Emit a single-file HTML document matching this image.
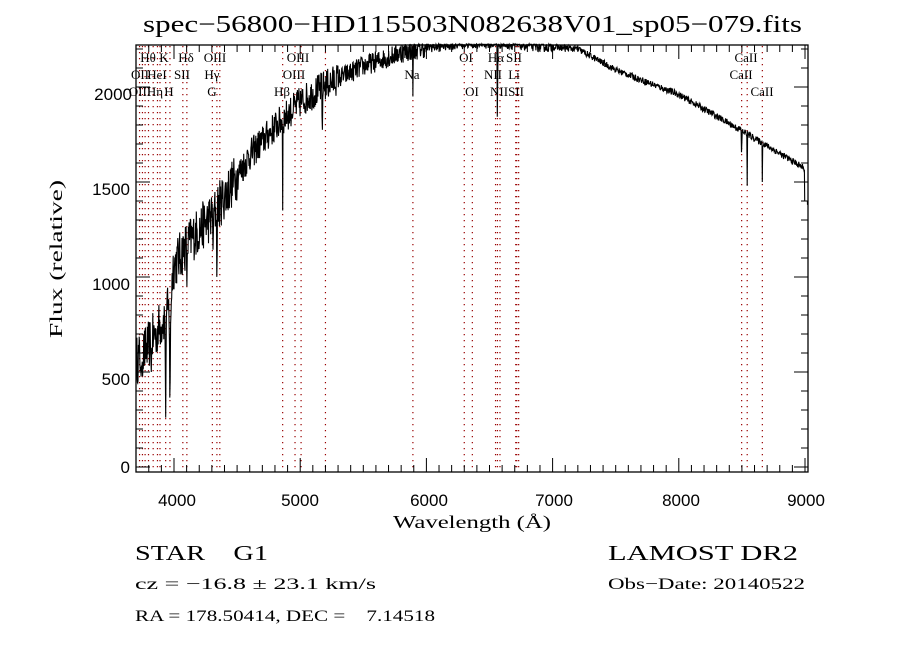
<!DOCTYPE html>
<html><head><meta charset="utf-8"><style>
body{margin:0;background:#fff;width:900px;height:650px;overflow:hidden}
svg{display:block}
text{white-space:pre}
</style></head><body>
<svg id="s" width="900" height="650" xmlns="http://www.w3.org/2000/svg" font-family="Liberation Serif, serif">
<rect width="900" height="650" fill="#fff"/>
<text x="143" y="32" font-size="24" textLength="659" lengthAdjust="spacingAndGlyphs" fill="#000">spec−56800−HD115503N082638V01_sp05−079.fits</text>
<g id="dots" stroke="#900" stroke-width="1.2" stroke-dasharray="1.2,4.8"></g>
<path id="sp" fill="none" stroke="#000" stroke-width="1.1"/>
<rect x="136" y="45" width="672" height="427" fill="none" stroke="#000" stroke-width="1.3"/>
<g id="ticks" stroke="#000" stroke-width="1"></g>
<g font-size="17" font-family="Liberation Sans, sans-serif" fill="#000" text-anchor="middle" font-weight="lighter">
<text x="177" y="506">4000</text><text x="300" y="506">5000</text><text x="429" y="506">6000</text>
<text x="554" y="506">7000</text><text x="681" y="506">8000</text><text x="806" y="506">9000</text>
</g>
<g font-size="17" font-family="Liberation Sans, sans-serif" fill="#000" text-anchor="end">
<text x="130" y="473">0</text><text x="130" y="385">500</text><text x="130" y="290">1000</text>
<text x="130" y="195">1500</text><text x="132" y="100">2000</text>
</g>
<text x="393" y="528" font-size="18" textLength="158" lengthAdjust="spacingAndGlyphs">Wavelength (Å)</text>
<text transform="translate(62,338) rotate(-90)" font-size="18" textLength="158" lengthAdjust="spacingAndGlyphs">Flux (relative)</text>
<g font-size="13" fill="#000" text-anchor="middle">
<text x="148" y="62">Hθ</text><text x="164" y="62">K</text><text x="186" y="62">Hδ</text><text x="215" y="62">OIII</text><text x="298" y="62">OIII</text><text x="466" y="62">OI</text><text x="496" y="62">Hα</text><text x="514" y="62">SII</text><text x="746" y="62">CaII</text>
<text x="140" y="79">OII</text><text x="157" y="79">HeI</text><text x="182" y="79">SII</text><text x="212" y="79">Hγ</text><text x="294" y="79">OIII</text><text x="412" y="79">Na</text><text x="493" y="79">NII</text><text x="514" y="79">Li</text><text x="741" y="79">CaII</text>
<text x="140" y="96">OIII</text><text x="155" y="96">Hη</text><text x="169" y="96">H</text><text x="212" y="96">G</text><text x="282" y="96">Hβ</text><text x="472" y="96">OI</text><text x="507" y="96">NIISII</text><text x="762" y="96">CaII</text>
</g>
<g fill="#000">
<text x="135" y="560" font-size="21" textLength="133" lengthAdjust="spacingAndGlyphs">STAR    G1</text>
<text x="135" y="589" font-size="16" textLength="241" lengthAdjust="spacingAndGlyphs">cz = −16.8 ± 23.1 km/s</text>
<text x="135" y="621" font-size="16" textLength="300" lengthAdjust="spacingAndGlyphs">RA = 178.50414, DEC =    7.14518</text>
<text x="608" y="560" font-size="21" textLength="190" lengthAdjust="spacingAndGlyphs">LAMOST DR2</text>
<text x="608" y="589" font-size="16" textLength="197" lengthAdjust="spacingAndGlyphs">Obs−Date: 20140522</text>
</g>
</svg>
<script>
var X=w=>174+(w-4000)*0.1262, Y=f=>467-f*0.19;
var ns="http://www.w3.org/2000/svg";
var dl=[3727,3750,3771,3798,3835,3869,3889,3934,3968,4070,4102,4304,4340,4363,4861,4959,5007,5200,5893,6300,6364,6548,6563,6583,6708,6716,6731,8498,8542,8662];
var g=document.getElementById('dots');
dl.forEach(w=>{var l=document.createElementNS(ns,'line');l.setAttribute('x1',X(w));l.setAttribute('x2',X(w));l.setAttribute('y1',46);l.setAttribute('y2',471);g.appendChild(l);});
var t=document.getElementById('ticks'),tk='';
for(var w=3800;w<=9000;w+=100){var big=w%1000==0,h=big?14:7;tk+='M'+X(w)+' 472v-'+h+'M'+X(w)+' 45v'+h;}
for(var f=0;f<=2200;f+=100){var big=f%500==0,h=big?14:7;tk+='M136 '+Y(f)+'h'+h+'M808 '+Y(f)+'h-'+h;}
var p=document.createElementNS(ns,'path');p.setAttribute('d',tk);t.appendChild(p);
var cont=[[3700,560],[3780,620],[3900,760],[3975,850],[3990,1050],[4100,1170],[4200,1250],[4300,1320],[4450,1480],[4600,1640],[4800,1790],[5000,1920],[5200,2010],[5500,2110],[5800,2180],[6000,2210],[6300,2230],[6600,2230],[7000,2210],[7200,2200],[7500,2090],[8000,1960],[8500,1770],[9000,1570]];
function C(w){for(var i=0;i<cont.length-1;i++){if(w<=cont[i+1][0]){var a=cont[i],b=cont[i+1];return a[1]+(b[1]-a[1])*(w-a[0])/(b[0]-a[0]);}}return 1570;}
var lines=[[3934,260,6],[3968,270,6],[3740,420,3],[3820,500,4],[3860,550,3],[3900,700,3],[4102,950,4],[4340,880,4],[4310,1050,3],[4861,1350,3],[5175,1700,4],[5893,1950,3],[6563,1650,3],[8498,1600,3],[8542,1480,3],[8662,1500,3]];
var s=12345;function r(){s=(s*16807)%2147483647;return s/2147483647-0.5;}
var d='';
for(var w=3700;w<=9020;w+=3){var f=C(w);var amp=w<4500?260:w<5300?170:w<6000?110:w<7000?60:35;f+=r()*amp;
lines.forEach(L=>{var dw=Math.abs(w-L[0]);if(dw<L[2])f=Math.min(f,L[1]+(C(w)-L[1])*dw/L[2]);});
if(w>8995)f=1400;if(f>2228)f=2225;
d+=(d?'L':'M')+X(w).toFixed(1)+' '+Y(f).toFixed(1);}
d+='L'+X(9020).toFixed(1)+' '+Y(1380);
document.getElementById('sp').setAttribute('d',d);
</script>
</body></html>
